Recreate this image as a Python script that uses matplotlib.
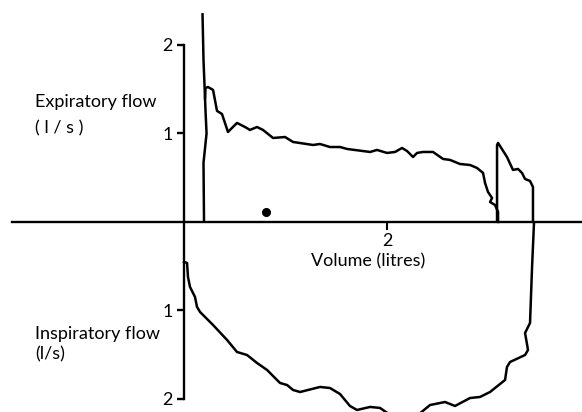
import numpy as np
import matplotlib
matplotlib.use("Agg")
import matplotlib.pyplot as plt

# expiration: initial rapid rise (vertical pen stroke)
rise_vol = [0.182, 0.192, 0.212, 0.222, 0.192, 0.197]
rise_flow = [2.36, 1.83, 1.25, 1.00, 0.67, 0.0]

# expiratory limb, volume (l) / flow (l/s)
exp_vol = [0.207, 0.212, 0.236, 0.286, 0.325, 0.374, 0.433, 0.522, 0.601, 0.650,
           0.719, 0.778, 0.877, 0.995, 1.074, 1.271, 1.340, 1.438, 1.537, 1.606,
           1.833, 1.901, 2.000, 2.079, 2.148, 2.197, 2.256, 2.296, 2.355, 2.453,
           2.552, 2.621, 2.719, 2.818, 2.887, 2.946, 2.966, 2.995, 3.035, 3.015,
           3.064, 3.094, 3.094]
exp_flow = [1.40, 1.514, 1.525, 1.492, 1.255, 1.220, 1.017, 1.119, 1.073, 1.040,
            1.073, 1.040, 0.949, 0.960, 0.904, 0.870, 0.881, 0.847, 0.847, 0.825,
            0.791, 0.814, 0.780, 0.791, 0.836, 0.802, 0.734, 0.780, 0.791, 0.791,
            0.712, 0.701, 0.655, 0.644, 0.610, 0.554, 0.440, 0.339, 0.271, 0.226,
            0.192, 0.113, 0.0]

# terminal spike + inspiratory limb (flow negative = inspiration)
insp_vol = [3.084, 3.084, 3.094, 3.182, 3.241, 3.291, 3.330, 3.360, 3.409, 3.438,
            3.438, 3.448, 3.429, 3.409, 3.360, 3.389, 3.360, 3.212, 3.182, 3.163,
            3.015, 2.916, 2.818, 2.670, 2.571, 2.424, 2.305, 2.030, 1.931, 1.833,
            1.704, 1.635, 1.537, 1.438, 1.340, 1.143, 1.074, 1.015, 0.946, 0.818,
            0.719, 0.621, 0.522, 0.424, 0.286, 0.158, 0.128, 0.108, 0.059, 0.039,
            0.030, 0.0]
insp_flow = [0.02, 0.870, 0.893, 0.734, 0.588, 0.599, 0.554, 0.486, 0.463, 0.395,
             0.0, -0.011, -0.508, -1.141, -1.254, -1.446, -1.503, -1.582, -1.638, -1.785,
             -1.921, -1.977, -1.989, -2.079, -2.034, -2.068, -2.180, -2.180, -2.101, -2.090,
             -2.124, -2.079, -1.944, -1.876, -1.864, -1.921, -1.898, -1.842, -1.819, -1.672,
             -1.593, -1.503, -1.469, -1.333, -1.164, -1.017, -0.960, -0.847, -0.734, -0.621,
             -0.463, -0.452]

dot_vol, dot_flow = [0.808], [0.113]

ytick_vals = [-2, -1, 1, 2]
ytick_text = ["2", "1", "1", "2"]
xtick_vals = [2]
xtick_text = ["2"]

fig = plt.figure(figsize=(5.82, 4.12), dpi=100)
ax = fig.add_axes([0, 0, 1, 1])
ax.set_xlim(-1.813, 3.921)
ax.set_ylim(-2.147, 2.508)

lw = 1.8
ax.plot(rise_vol, rise_flow, color="black", lw=lw, solid_capstyle="butt")
ax.plot(exp_vol, exp_flow, color="black", lw=lw, solid_joinstyle="round")
ax.plot(insp_vol, insp_flow, color="black", lw=lw, solid_joinstyle="round")
ax.plot(dot_vol, dot_flow, "o", color="black", ms=5.5)

for s in ["top", "right"]:
    ax.spines[s].set_visible(False)
ax.spines["left"].set_position(("data", 0))
ax.spines["bottom"].set_position(("data", 0))
ax.spines["left"].set_bounds(-2, 2)
ax.spines["bottom"].set_bounds(-1.69, 3.921)
ax.spines["left"].set_linewidth(1.7)
ax.spines["bottom"].set_linewidth(1.7)

ax.set_yticks(ytick_vals)
ax.set_yticklabels(ytick_text)
ax.set_xticks(xtick_vals)
ax.set_xticklabels(xtick_text)
ax.tick_params(axis="y", direction="out", length=5, width=1.7, pad=3, labelsize=13)
ax.tick_params(axis="x", direction="out", length=6, width=1.5, pad=2, labelsize=13)
for lab in ax.get_xticklabels() + ax.get_yticklabels():
    lab.set_family("Lato")

tf = dict(family="Lato", fontsize=13, color="black")
ax.text(-1.47, 1.35, "Expiratory flow", va="center", ha="left", **tf)
ax.text(-1.47, 1.06, "( l / s )", va="center", ha="left", **tf)
ax.text(-1.47, -1.27, "Inspiratory flow", va="center", ha="left", **tf)
ax.text(-1.47, -1.50, "(l/s)", va="center", ha="left", **tf)
ax.text(1.81, -0.45, "Volume (litres)", va="center", ha="center", **tf)

fig.savefig("out.png", dpi=100)
